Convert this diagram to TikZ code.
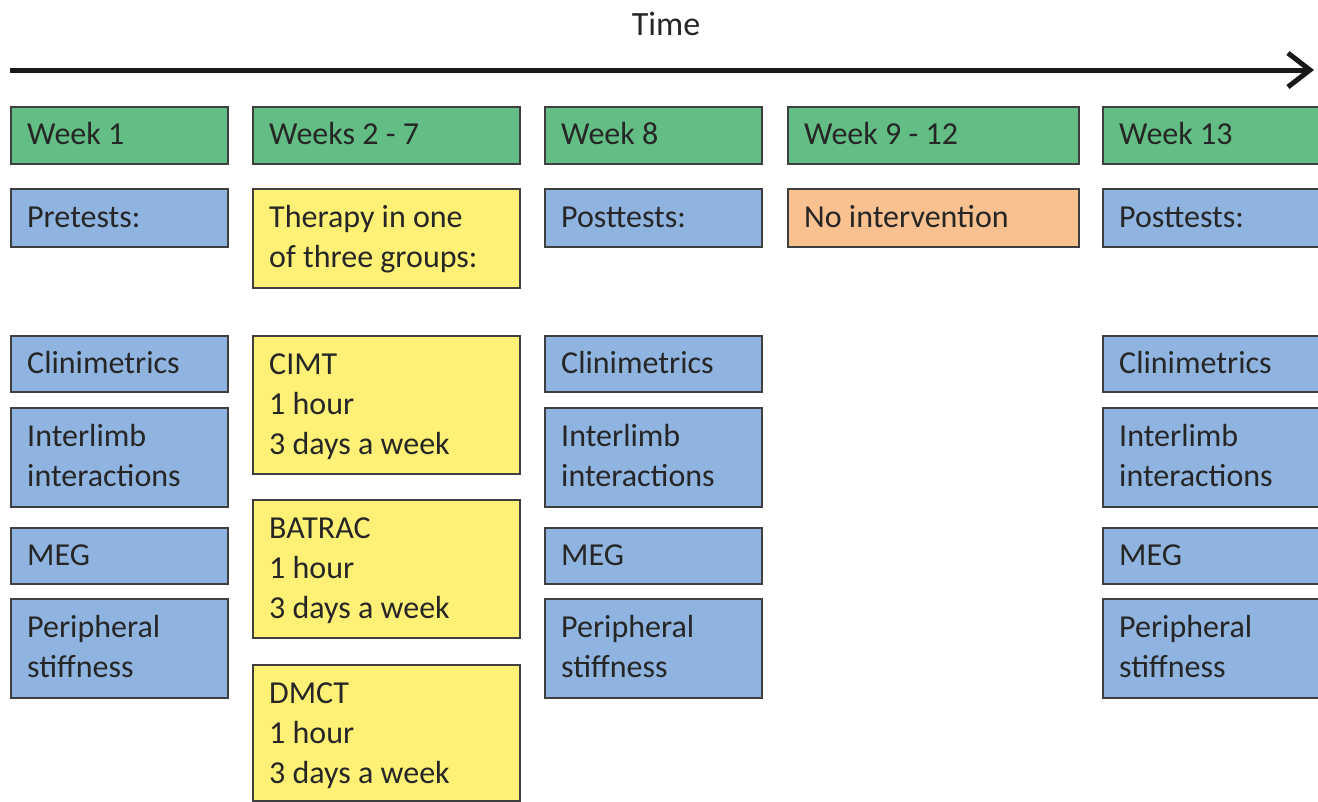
\documentclass[tikz,border=0pt]{standalone}
\usepackage{fontspec}
\setmainfont{Carlito}
\usetikzlibrary{arrows.meta}
\definecolor{gfill}{HTML}{62BE85}
\definecolor{bfill}{HTML}{8FB4E0}
\definecolor{yfill}{HTML}{FFF176}
\definecolor{ofill}{HTML}{F9C18F}
\definecolor{edge}{HTML}{3F3F3F}
\definecolor{ink}{HTML}{262626}
\tikzset{
  boxbase/.style={draw=edge, line width=2pt, inner sep=0pt, anchor=north west},
  greenbox/.style={boxbase, fill=gfill},
  bluebox/.style={boxbase, fill=bfill},
  yellowbox/.style={boxbase, fill=yfill},
  orangebox/.style={boxbase, fill=ofill},
  txt/.style={inner sep=0pt, anchor=base west, text=ink, font=\fontsize{32}{40}\selectfont},
  timearrow/.style={line width=5pt, -{Straight Barb[length=22pt, width=34pt]}, draw=black!90}
}
% name, style, x1, y1, x2, y2, first baseline, text
\newcommand\bx[8]{%
  \node[#2, minimum width={#5-#3}, minimum height={#6-#4}] (#1) at (#3,#4) {};
  \node[txt] (#1t) at (#3+17,#7) {\begin{tabular}[t]{@{}l@{}}#8\end{tabular}};
}
\begin{document}
\begin{tikzpicture}[x=1pt, y=-1pt]
\useasboundingbox (0,0) rectangle (1318,801);
\renewcommand{\arraystretch}{1}
% time axis
\node[inner sep=0pt, anchor=base, text=ink, font=\fontsize{34}{40}\selectfont] (time) at (666,35) {Time};
\coordinate (tstart) at (10,70);
\coordinate (tend) at (1314,70);
\draw[timearrow] (tstart) -- (tend);
% header row
\bx{w1}{greenbox}{10}{106}{227}{163}{144.5}{Week 1}
\bx{w2}{greenbox}{252}{106}{519}{163}{144.5}{Weeks 2 - 7}
\bx{w8}{greenbox}{544}{106}{761}{163}{144.5}{Week 8}
\bx{w9}{greenbox}{787}{106}{1078}{163}{144.5}{Week 9 - 12}
\bx{w13}{greenbox}{1102}{106}{1319}{163}{144.5}{Week 13}
% second row
\bx{pre}{bluebox}{10}{188}{227}{246}{227}{Pretests:}
\bx{ther}{yellowbox}{252}{188}{519}{287}{227.5}{Therapy in one\\of three groups:}
\bx{post1}{bluebox}{544}{188}{761}{246}{227}{Posttests:}
\bx{noint}{orangebox}{787}{188}{1078}{246}{227}{No intervention}
\bx{post2}{bluebox}{1102}{188}{1319}{246}{227}{Posttests:}
% measures column 1
\bx{c1}{bluebox}{10}{335}{227}{391}{373}{Clinimetrics}
\bx{i1}{bluebox}{10}{407}{227}{506}{446.5}{Interlimb\\interactions}
\bx{m1}{bluebox}{10}{527}{227}{583}{565}{MEG}
\bx{p1}{bluebox}{10}{598}{227}{697}{637.5}{Peripheral\\stiffness}
% therapy groups
\bx{cimt}{yellowbox}{252}{335}{519}{473}{374}{CIMT\\1 hour\\3 days a week}
\bx{batrac}{yellowbox}{252}{499}{519}{637}{538}{BATRAC\\1 hour\\3 days a week}
\bx{dmct}{yellowbox}{252}{664}{519}{800}{703}{DMCT\\1 hour\\3 days a week}
% measures column 3
\bx{c3}{bluebox}{544}{335}{761}{391}{373}{Clinimetrics}
\bx{i3}{bluebox}{544}{407}{761}{506}{446.5}{Interlimb\\interactions}
\bx{m3}{bluebox}{544}{527}{761}{583}{565}{MEG}
\bx{p3}{bluebox}{544}{598}{761}{697}{637.5}{Peripheral\\stiffness}
% measures column 5
\bx{c5}{bluebox}{1102}{335}{1319}{391}{373}{Clinimetrics}
\bx{i5}{bluebox}{1102}{407}{1319}{506}{446.5}{Interlimb\\interactions}
\bx{m5}{bluebox}{1102}{527}{1319}{583}{565}{MEG}
\bx{p5}{bluebox}{1102}{598}{1319}{697}{637.5}{Peripheral\\stiffness}
\end{tikzpicture}
\end{document}
